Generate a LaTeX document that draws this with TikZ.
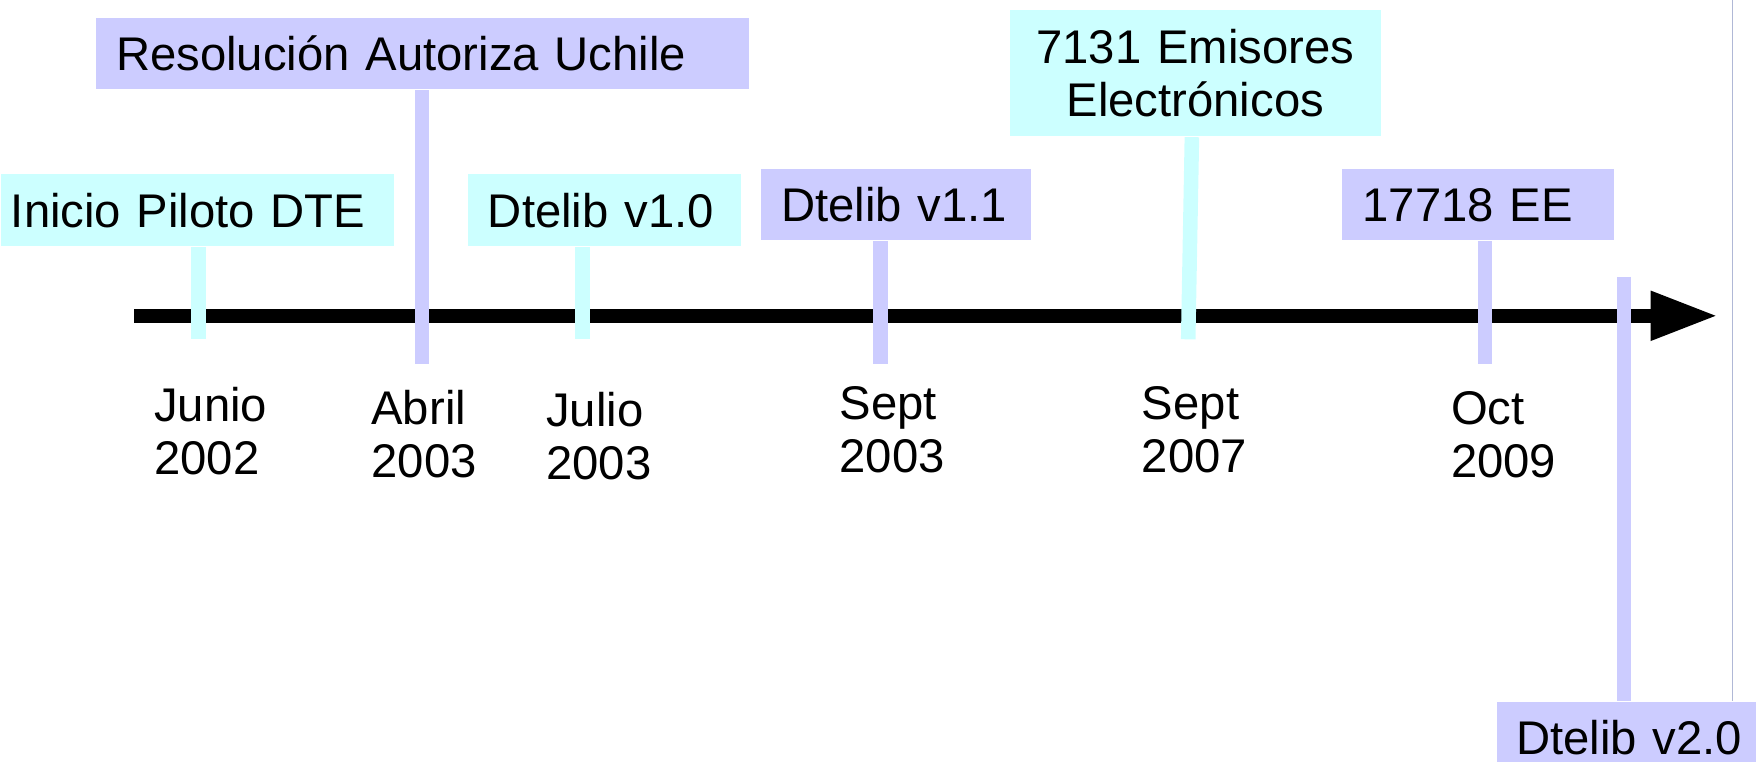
\documentclass[tikz,border=0pt]{standalone}
\usepackage{fontspec}
\setmainfont{Liberation Sans}
\usetikzlibrary{arrows.meta}
\definecolor{celeste}{HTML}{CCFFFF}
\definecolor{lila}{HTML}{CCCCFF}
\definecolor{borde}{HTML}{B0B8D6}
\tikzset{hito/.style={anchor=north west, inner ysep=0pt, inner xsep=0.18cm, minimum height=0.64cm, text height=8.6pt, text depth=0pt, align=left}}
\tikzset{fecha/.style={anchor=base west, inner sep=0pt, text width=1.2cm, align=left}}
\tikzset{palo/.style={line width=0.13cm}}

\begin{document}
\begin{tikzpicture}[x=0.01cm, y=-0.01cm, every node/.style={font=\fontsize{12pt}{13.3pt}\selectfont}]
        \useasboundingbox (0,0) rectangle (1568,680);
        % linea de tiempo
        \coordinate (inicio) at (120,282);
        \coordinate (fin) at (1534,282);
        \draw [line width=0.125cm, -{Triangle[length=0.6cm,width=0.41cm]}] (inicio) -- (fin);
        % hitos
        \node [hito, fill=celeste, inner xsep=0.09cm, text width=3.33cm] (piloto) at (0,155) {Inicio Piloto DTE};
        \node [hito, fill=lila, text width=5.47cm] (resol) at (85,15) {Resolución Autoriza Uchile};
        \node [hito, fill=celeste, text width=2.08cm] (v10) at (417,155) {Dtelib v1.0};
        \node [hito, fill=lila, text width=2.05cm] (v11) at (679,150) {Dtelib v1.1};
        \node [hito, fill=celeste, text width=2.95cm, align=center, text depth=13.3pt, minimum height=1.13cm] (emis) at (901,8) {7131 Emisores\\Electrónicos\hspace*{0.12cm}};
        \node [hito, fill=lila, text width=2.06cm] (ee) at (1198,150) {17718 EE};
        \node [hito, fill=lila, inner xsep=0.17cm, text width=2.2cm] (v20) at (1336,626) {Dtelib v2.0};
        % palos
        \coordinate (p1) at (177,303);
        \coordinate (p2) at (377,325);
        \coordinate (p3) at (520,303);
        \coordinate (p4) at (786,325);
        \coordinate (p5) at (1061,303);
        \coordinate (p6) at (1326,325);
        \coordinate (p7) at (1450,247);
        \draw [palo, celeste] (piloto.south -| p1) -- (p1);
        \draw [palo, lila] (resol.south -| p2) -- (p2);
        \draw [palo, celeste] (v10.south -| p3) -- (p3);
        \draw [palo, lila] (v11.south -| p4) -- (p4);
        \draw [palo, celeste] ([xshift=-0.03cm]emis.south) -- (p5);
        \draw [palo, lila] (ee.south -| p6) -- (p6);
        \draw [palo, lila] (p7) -- (p7 |- v20.north);
        % borde derecho
        \coordinate (tope) at (1547,0);
        \draw [borde, line width=0.5pt] (tope) -- (tope |- v20.north);
        % fechas
        \node [fecha] (junio) at (137,376.6) {Junio\\2002};
        \node [fecha] (abril) at (331,379.5) {Abril\\2003};
        \node [fecha] (julio) at (487,381) {Julio\\2003};
        \node [fecha] (sept3) at (749,375) {Sept\\2003};
        \node [fecha] (sept7) at (1019,375) {Sept\\2007};
        \node [fecha] (oct) at (1295,379.5) {Oct\\2009};
\end{tikzpicture}
\end{document}
